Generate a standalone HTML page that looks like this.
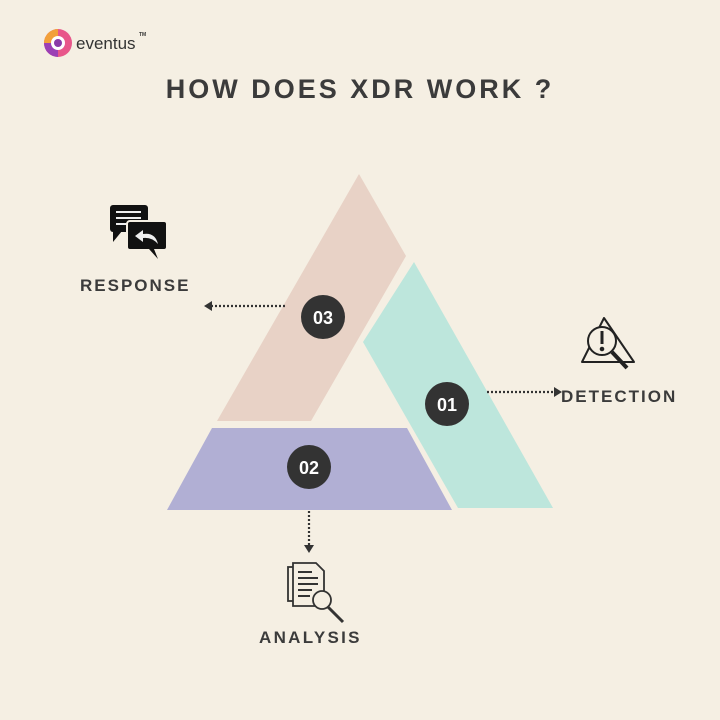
<!DOCTYPE html>
<html><head><meta charset="utf-8"><style>
html,body{margin:0;padding:0;background:#f5efe3;}
svg{display:block;}
text{font-family:"Liberation Sans",sans-serif;font-weight:bold;}
</style></head><body>
<svg width="720" height="720" viewBox="0 0 720 720" xmlns="http://www.w3.org/2000/svg">
<rect width="720" height="720" fill="#f5efe3"/>
<g>
<circle cx="58" cy="43" r="14" fill="#e8568a"/>
<path d="M44 43 A14 14 0 0 1 58 29 L58 43 Z" fill="#f2a03a"/>
<path d="M58 57 A14 14 0 0 1 44 43 L58 43 Z" fill="#9b3fb5"/>
<circle cx="58" cy="43" r="7" fill="#fff"/>
<circle cx="58" cy="43" r="4" fill="#8a3aa8"/>
<text x="76" y="49" font-size="17" fill="#333" style="font-weight:normal">eventus</text>
<text x="139" y="36" font-size="5" fill="#333">TM</text>
</g>
<text x="360" y="98" font-size="27" fill="#3b3b3b" text-anchor="middle" letter-spacing="3">HOW DOES XDR WORK ?</text>
<polygon points="359,174 406,256 311,421 217,421" fill="#e8d2c6"/>
<polygon points="414,262 553,508 458,508 363,342" fill="#bde6dc"/>
<polygon points="212,428 407,428 452,510 167,510" fill="#b1afd4"/>
<g fill="#333">
<circle cx="323" cy="317" r="22"/>
<circle cx="447" cy="404" r="22"/>
<circle cx="309" cy="467" r="22"/>
</g>
<g fill="#fff" font-size="18" text-anchor="middle">
<text x="323" y="324">03</text>
<text x="447" y="411">01</text>
<text x="309" y="474">02</text>
</g>
<g stroke="#333" stroke-width="2.2" stroke-dasharray="2 2" fill="none">
<line x1="285" y1="306" x2="212" y2="306"/>
<line x1="487" y1="392" x2="554" y2="392"/>
<line x1="309" y1="511" x2="309" y2="545"/>
</g>
<g fill="#333">
<polygon points="204,306 212,301 212,311"/>
<polygon points="562,392 554,387 554,397"/>
<polygon points="309,553 304,545 314,545"/>
</g>
<g>
<rect x="110" y="205" width="38" height="27" rx="3" fill="#111"/>
<polygon points="113,231 113,242 122,231" fill="#111"/>
<line x1="116" y1="212" x2="141" y2="212" stroke="#eee" stroke-width="2"/>
<line x1="116" y1="218" x2="141" y2="218" stroke="#eee" stroke-width="2"/>
<line x1="116" y1="224" x2="130" y2="224" stroke="#eee" stroke-width="2"/>
<rect x="127" y="221" width="40" height="29" rx="3" fill="#111" stroke="#f5efe3" stroke-width="2"/>
<polygon points="154,249 158,259 149,249" fill="#111"/>
<path d="M158 244 Q155 232 143 234 L143 230 L135 236 L143 242 L143 238 Q152 237 158 244 Z" fill="#eee"/>
</g>
<text x="80" y="291" font-size="17" fill="#3b3b3b" letter-spacing="2">RESPONSE</text>
<g fill="none" stroke="#222" stroke-width="2">
<path d="M604 318 L634 362 L582 362 Z" stroke-linejoin="round"/>
<circle cx="602" cy="341" r="14" fill="#f5efe3"/>
<line x1="612" y1="352" x2="627" y2="368" stroke-width="4"/>
<line x1="602" y1="331" x2="602" y2="344" stroke-width="3"/>
<circle cx="602" cy="349" r="1.3" fill="#222"/>
</g>
<text x="561" y="402" font-size="17" fill="#3b3b3b" letter-spacing="2">DETECTION</text>
<g fill="#f5efe3" stroke="#333" stroke-width="1.8">
<rect x="288" y="567" width="26" height="34"/>
<path d="M293 563 L316 563 L324 571 L324 606 L293 606 Z"/>
<g stroke-width="2">
<line x1="298" y1="572" x2="312" y2="572"/>
<line x1="298" y1="578" x2="318" y2="578"/>
<line x1="298" y1="584" x2="318" y2="584"/>
<line x1="298" y1="590" x2="312" y2="590"/>
<line x1="298" y1="596" x2="310" y2="596"/>
</g>
<circle cx="322" cy="600" r="9"/>
<line x1="328" y1="607" x2="343" y2="622" stroke-width="3"/>
</g>
<text x="259" y="643" font-size="17" fill="#3b3b3b" letter-spacing="2.3">ANALYSIS</text>
</svg>
</body></html>
